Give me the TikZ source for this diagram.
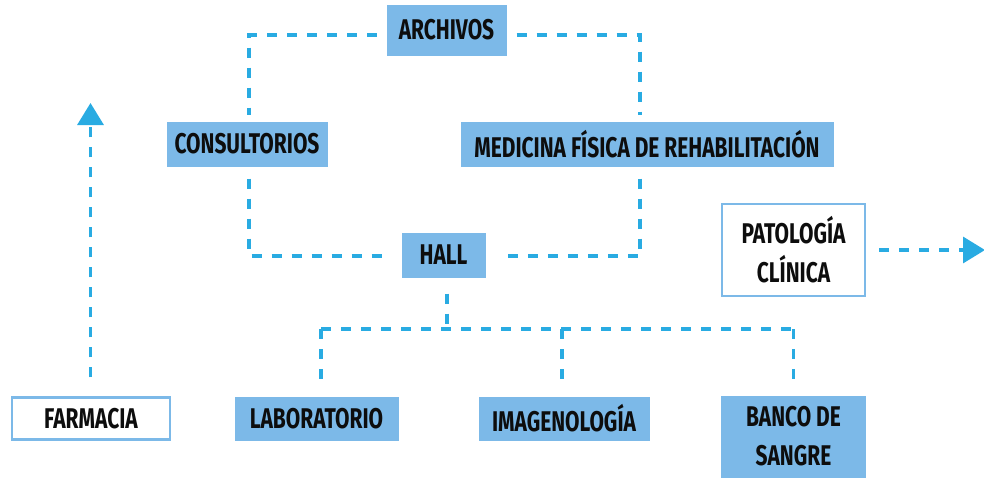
\documentclass[tikz,border=0pt]{standalone}
\usepackage{fontspec}
\usetikzlibrary{arrows.meta}
\newfontfamily\boxfont{Fira Sans}[FakeStretch=0.735]
\definecolor{linkblue}{RGB}{41,171,226}
\definecolor{boxblue}{RGB}{124,185,232}

\begin{document}
\begin{tikzpicture}[x=1pt, y=-1pt,
    area/.style={fill=boxblue, draw=boxblue, line width=1pt, inner sep=0pt, align=center,
        font=\boxfont\bfseries\fontsize{28.5}{39}\selectfont, text=black!95},
    outarea/.style={area, fill=white, line width=2.5pt},
    link/.style={linkblue, line width=3.3pt, dash pattern=on 10pt off 10pt},
    exit/.style={link, -{Triangle[width=26pt,length=22pt]}}]

\useasboundingbox (0,0) rectangle (984,477);

\node[area, minimum width=119pt, minimum height=50pt] (arch) at (446.5,30) {ARCHIVOS};
\node[area, minimum width=160pt, minimum height=44pt] (cons) at (247,144) {CONSULTORIOS};
\node[area, minimum width=372pt, minimum height=44pt] (med) at (647,144) {MEDICINA FÍSICA DE REHABILITACIÓN};
\node[area, minimum width=83pt, minimum height=44pt] (hall) at (443.5,255) {HALL};
\node[outarea, minimum width=143pt, minimum height=92pt] (pat) at (793.5,250) {PATOLOGÍA\\CLÍNICA};

\node[outarea, minimum width=158pt, minimum height=42pt] (farm) at (91,418.5) {FARMACIA};
\node[area, minimum width=163pt, minimum height=43pt] (lab) at (316.5,418.5) {LABORATORIO};
\node[area, minimum width=170pt, minimum height=43pt] (img) at (564,418.5) {IMAGENOLOGÍA};
\node[area, minimum width=144pt, minimum height=81pt] (banco) at (793.5,436.5) {BANCO DE\\SANGRE};

% upper ring
\draw[link, shorten <=10pt, shorten >=7pt] ([yshift=-5pt]arch.west) -| ([xshift=2pt]cons.north);
\draw[link, shorten <=10pt, shorten >=7pt] ([yshift=-5pt]arch.east) -| ([xshift=-7pt]med.north);
\draw[link, shorten <=12pt, shorten >=14pt] ([xshift=2pt]cons.south) |- ([yshift=-1pt]hall.west);
\draw[link, shorten <=12pt, shorten >=14pt] ([xshift=-7pt]med.south) |- ([yshift=-1pt]hall.east);

% lower branches
\coordinate (bus) at (447,329);
\coordinate (labtop) at ([xshift=4.5pt]lab.north);
\coordinate (imgtop) at ([xshift=-2pt]img.north);
\draw[link, shorten <=16pt] ([xshift=3.5pt]hall.south) -- (bus);
\draw[link] (bus -| labtop) -- (bus -| banco.north);
\draw[link, shorten >=8pt] (bus -| labtop) -- (labtop);
\draw[link, shorten >=8pt] (bus -| imgtop) -- (imgtop);
\draw[link, shorten >=8pt] (bus -| banco.north) -- (banco.north);

% exits
\coordinate (farmtip) at (90.5,103);
\coordinate (pattip) at (985,250);
\draw[exit, shorten <=19pt] ([xshift=-0.5pt]farm.north) -- (farmtip);
\draw[exit, shorten <=13pt] (pat.east) -- (pattip);

\end{tikzpicture}
\end{document}
